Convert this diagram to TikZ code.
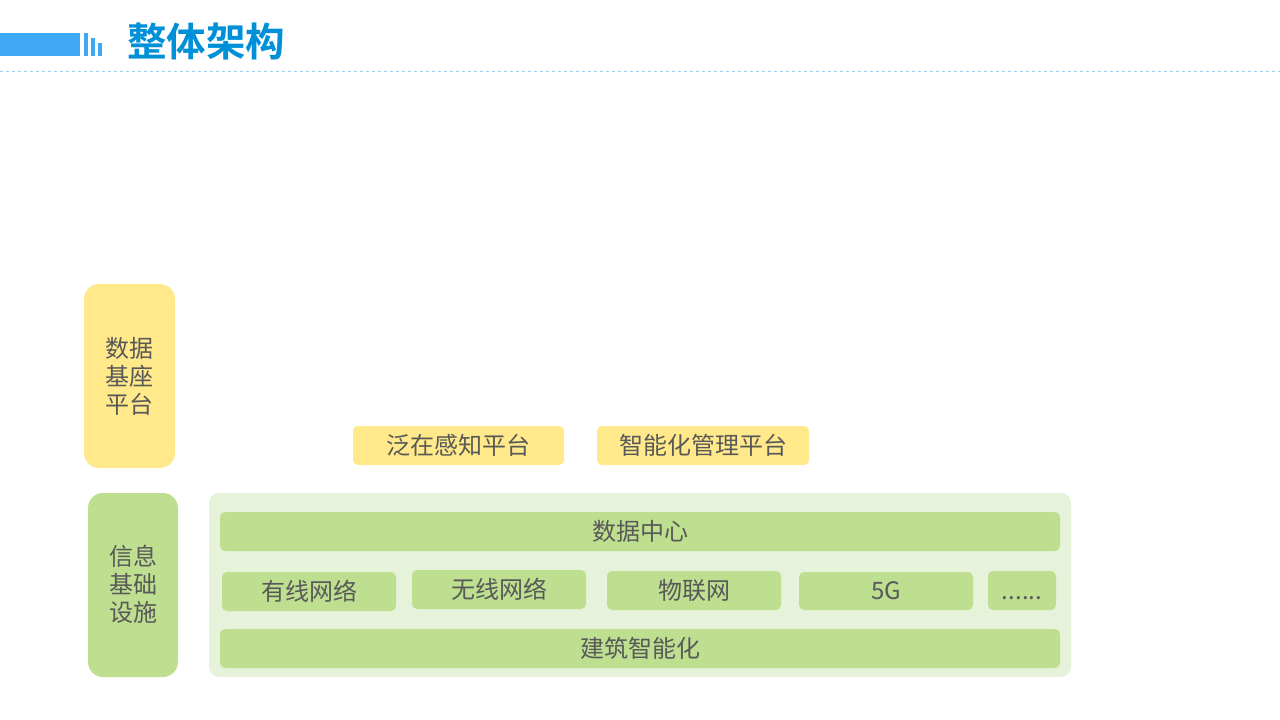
\documentclass[tikz,border=0pt]{standalone}
\usepackage{fontspec}
\setmainfont{Noto Sans CJK SC}
\newfontfamily\cjk{Noto Sans CJK SC}
\newfontfamily\cjkb{Noto Sans CJK SC Bold}
\begin{document}
\begin{tikzpicture}[x=1pt,y=-1pt,
  yel/.style={fill=yelc, draw=none, rounded corners=5pt},
  grn/.style={fill=grnc, draw=none, rounded corners=5pt},
  lbl/.style={text=txtc, font=\cjk\fontsize{24}{28}\selectfont, inner sep=0pt},
  side/.style={text=txtc, font=\cjk\fontsize{24}{28}\selectfont, align=center, inner sep=0pt}]
\definecolor{yelc}{HTML}{FFE98A}
\definecolor{grnc}{HTML}{BDDF8F}
\definecolor{panc}{HTML}{E6F2DA}
\definecolor{txtc}{HTML}{595959}
\definecolor{barc}{HTML}{3FA9F5}
\definecolor{titc}{HTML}{0090D8}
\definecolor{dashc}{HTML}{9CCFEF}
\useasboundingbox (0,0) rectangle (1280,720);
% header
\fill[barc] (0,33) rectangle (80,56);
\fill[barc] (84,33) rectangle (88,56);
\fill[barc] (91,38) rectangle (95,56);
\fill[barc] (98,43) rectangle (102,56);
\node[anchor=west, inner sep=0pt, text=titc, font=\cjkb\fontsize{39.5}{44}\selectfont] (title) at (127,42) {整体架构};
\draw[dashc, dashed, line width=0.8pt] (0,71.5) -- (1280,71.5);
% yellow layer
\fill[yelc, rounded corners=15pt] (84,284) rectangle (175,468);
\node[side] (jz) at (129.5,376) {数据\\基座\\平台};
\fill[yel] (353,426) rectangle (564,465);
\node[lbl] (fz) at (458.5,445.5) {泛在感知平台};
\fill[yel] (597,426) rectangle (809,465);
\node[lbl] (zn) at (703,445.5) {智能化管理平台};
% green layer
\fill[grnc, rounded corners=15pt] (88,493) rectangle (178,677);
\node[side] (xx) at (133,584) {信息\\基础\\设施};
\fill[panc, rounded corners=10pt] (209,493) rectangle (1071,677);
\fill[grn] (220,512) rectangle (1060,551);
\node[lbl] (sj) at (640,531.5) {数据中心};
\fill[grn] (222,572) rectangle (396,611);
\node[lbl] (yx) at (309,591.5) {有线网络};
\fill[grn] (412,570) rectangle (586,609);
\node[lbl] (wx) at (499,589.5) {无线网络};
\fill[grn] (607,571) rectangle (781,610);
\node[lbl] (wl) at (694,590.5) {物联网};
\fill[grn] (799,572) rectangle (973,610);
\node[lbl] (g5) at (886,591) {5G};
\fill[grn] (988,571) rectangle (1056,610);
\node[lbl] (dd) at (1022,598) {......};
\fill[grn] (220,629) rectangle (1060,668);
\node[lbl] (jzn) at (640,648.5) {建筑智能化};
\end{tikzpicture}
\end{document}
